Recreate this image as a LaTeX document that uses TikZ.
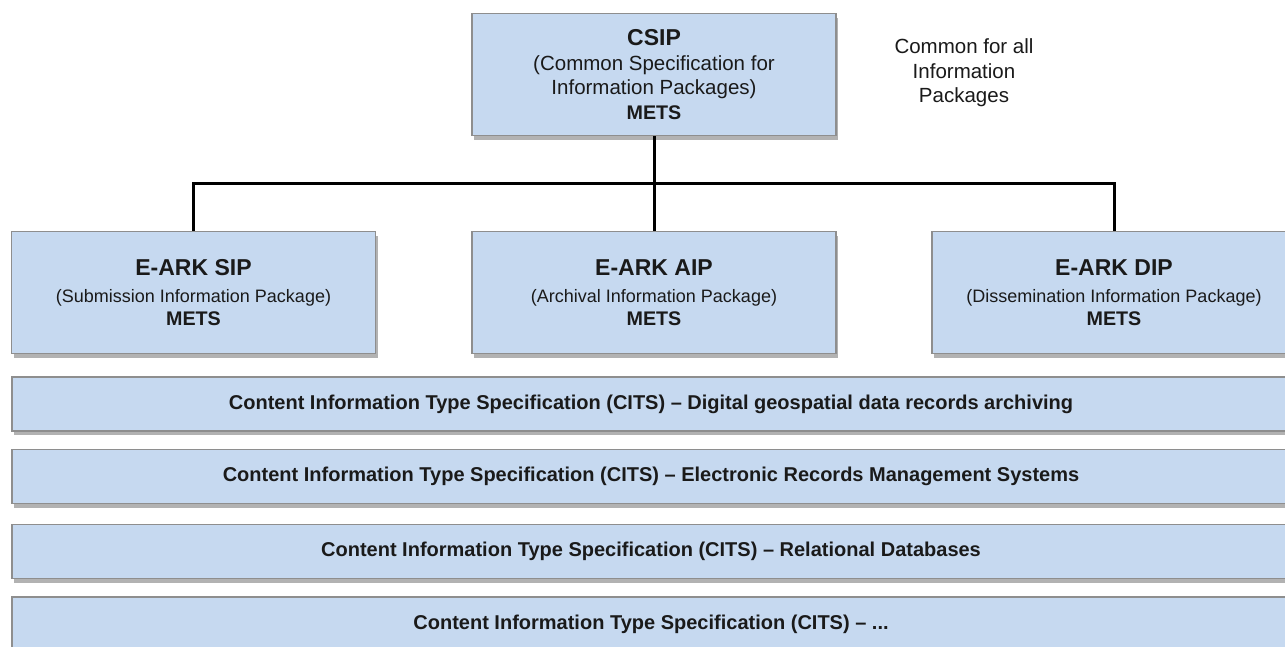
\documentclass[tikz,border=0pt]{standalone}
\usepackage{fontspec}
\setmainfont{Liberation Sans}
\usetikzlibrary{shadows}
\definecolor{boxblue}{HTML}{C6D9F0}
\definecolor{boxgray}{HTML}{8E8E8E}
\definecolor{ink}{HTML}{1A1A1A}
\newcommand{\titlefont}{\fontsize{23}{25}\selectfont\bfseries}
\newcommand{\subfont}{\fontsize{18}{25}\selectfont}
\newcommand{\metsfont}{\fontsize{19.7}{25}\selectfont\bfseries}
\tikzset{
  pkgbox/.style={draw=boxgray, line width=1.2pt, fill=boxblue, text=ink,
    minimum width=364pt, minimum height=122pt, align=center, inner sep=0pt,
    font=\fontsize{20.5}{24.5}\selectfont,
    drop shadow={shadow xshift=2pt, shadow yshift=-4pt, opacity=.3, fill=black}},
  citsbar/.style={pkgbox, minimum width=1278pt, minimum height=54pt,
    font=\fontsize{20}{24}\selectfont\bfseries},
  wire/.style={line width=3pt, black}
}
\begin{document}
\begin{tikzpicture}[x=1pt,y=-1pt]
  \useasboundingbox (0,0) rectangle (1285,646);
  \clip (0,0) rectangle (1285,646);
  \fill[white] (0,0) rectangle (1285,646);
  % common specification
  \node[pkgbox] (csip) at (654,74.5) {{\titlefont CSIP}\\
    (Common Specification for\\
    Information Packages)\\
    {\metsfont METS}};
  \node[align=center, text=ink, font=\fontsize{20.5}{24.5}\selectfont] (note) at (964,73)
    {Common for all\\Information\\Packages};
  % the three package types
  \node[pkgbox] (sip) at (193.5,292.5) {{\titlefont E-ARK SIP}\\[2.5pt]
    {\subfont (Submission Information Package)}\\[-1.5pt]{\metsfont METS}};
  \node[pkgbox] (aip) at (654,292.5) {{\titlefont E-ARK AIP}\\[2.5pt]
    {\subfont (Archival Information Package)}\\[-1.5pt]{\metsfont METS}};
  \node[pkgbox] (dip) at (1114,292.5) {{\titlefont E-ARK DIP}\\[2.5pt]
    {\subfont (Dissemination Information Package)}\\[-1.5pt]{\metsfont METS}};
  \coordinate (bus) at (654,183);
  \draw[wire] (csip.south) -- (bus);
  \draw[wire] (sip.north) |- (bus) -| (dip.north);
  \draw[wire] (bus) -- (aip.north);
  % content information types
  \node[citsbar] (cits1) at (651,404) {Content Information Type Specification (CITS) -- Digital geospatial data records archiving};
  \node[citsbar] (cits2) at (651,476.5) {Content Information Type Specification (CITS) -- Electronic Records Management Systems};
  \node[citsbar] (cits3) at (651,551.5) {Content Information Type Specification (CITS) -- Relational Databases};
  \node[citsbar] (cits4) at (651,624) {Content Information Type Specification (CITS) -- ...};
\end{tikzpicture}
\end{document}
